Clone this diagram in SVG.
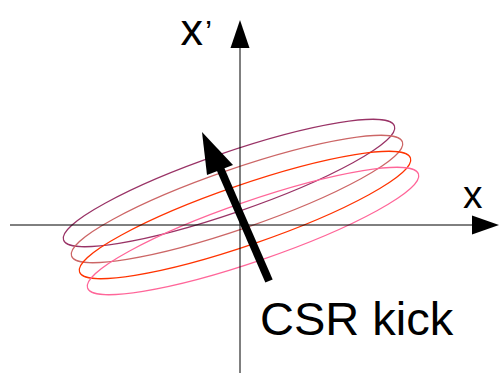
<svg xmlns="http://www.w3.org/2000/svg" width="500" height="373" viewBox="0 0 500 373">
<style>
.ax{stroke:#000;stroke-width:1;fill:none}
.el{fill:none;stroke-width:1.2}
.t{font-family:"Liberation Sans",Arial,sans-serif;fill:#000}
</style>
<rect width="500" height="373" fill="#fff"/>
<g id="ellipses">
<ellipse id="e1" class="el" cx="229" cy="183" rx="175" ry="30" transform="rotate(-19 229 183)" stroke="#993366"/>
<ellipse id="e2" class="el" cx="237" cy="199" rx="175" ry="30" transform="rotate(-19 237 199)" stroke="#CC6666"/>
<ellipse id="e3" class="el" cx="245" cy="215" rx="175" ry="30" transform="rotate(-19 245 215)" stroke="#FF3300"/>
<ellipse id="e4" class="el" cx="253" cy="231" rx="175" ry="30" transform="rotate(-19 253 231)" stroke="#FF6699"/>
</g>
<g id="connectors">
<line class="ax" x1="240" y1="46" x2="240" y2="373"/>
<polygon points="240,20 230.5,48 249.5,48" fill="#000"/>
<line class="ax" x1="10" y1="225" x2="474" y2="225"/>
<polygon points="499,225 472,215.5 472,234.5" fill="#000"/>
<line x1="269" y1="281" x2="220" y2="168" stroke="#000" stroke-width="8"/>
<polygon points="202,132 207,175 233,165" fill="#000"/>
</g>
<g id="labels">
<text class="t" font-size="45" x="180.5" y="45">x</text>
<text class="t" font-size="32" x="205" y="43">’</text>
<text class="t" font-size="39" x="463" y="208">x</text>
<text class="t" font-size="47" x="260" y="335">CSR kick</text>
</g>
</svg>
